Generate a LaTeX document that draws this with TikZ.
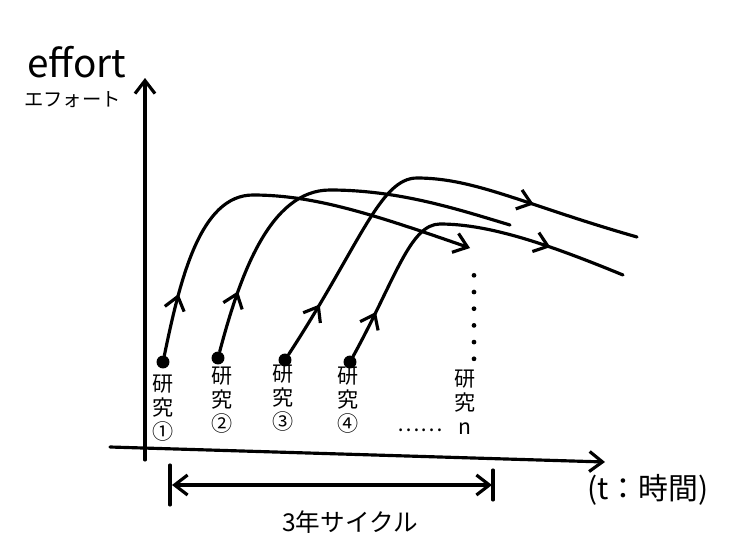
\documentclass[tikz,border=0pt]{standalone}
\usepackage{fontspec}
\setmainfont{Noto Sans CJK JP}
\usetikzlibrary{arrows.meta,decorations.markings}

\begin{document}
\begin{tikzpicture}[
    ink/.style={line width=1.8pt,line cap=round,line join=round},
    barb/.style={-{Straight Barb[length=2.6mm,width=4mm]}},
    dotstart/.style={circle,fill=black,inner sep=2.6pt},
    research/.style={align=center,font=\fontsize{12}{13.5}\selectfont},
    midarrow/.style={postaction={decorate,decoration={markings,
      mark=at position #1 with {\arrow{Straight Barb[length=2.6mm,width=4mm]}}}}}
  ]
    \useasboundingbox (0,0) rectangle (15,11.1);

    % axes
    \node[font=\fontsize{22}{22}\selectfont] (effort) at (1.54,9.86) {effort};
    \node[font=\fontsize{11}{11}\selectfont] (effortjp) at (1.45,9.1) {エフォート};
    \coordinate (ybot) at (2.9,1.9);
    \coordinate (ytop) at (2.9,9.54);
    \coordinate (xl) at (2.2,2.16);
    \coordinate (xr) at (12.1,1.86);
    \draw[ink,barb] (ybot) -- (ytop);
    \draw[ink,barb] (xl) -- (xr);
    \node[font=\fontsize{17}{17}\selectfont] (tlabel) at (12.96,1.3) {(t：時間)};

    % research lines
    \node[dotstart] (s1) at (3.26,3.86) {};
    \node[dotstart] (s2) at (4.36,3.94) {};
    \node[dotstart] (s3) at (5.7,3.9) {};
    \node[dotstart] (s4) at (7.0,3.86) {};
    \coordinate (e1) at (9.4,6.14);
    \coordinate (e2) at (10.2,6.6);
    \coordinate (e3) at (12.74,6.36);
    \coordinate (e4) at (12.46,5.6);

    \draw[ink,barb,midarrow=0.15] (s1) .. controls (3.6,5.5) and (4.0,7.2) .. (5.06,7.2)
      .. controls (6.3,7.2) and (7.5,6.8) .. (e1);
    \draw[ink,midarrow=0.16] (s2) .. controls (4.8,5.6) and (5.4,7.3) .. (6.6,7.3)
      .. controls (8,7.3) and (9.2,6.9) .. (e2);
    \draw[ink,midarrow=0.13,midarrow=0.76] (s3) .. controls (7.2,6.2) and (7.6,7.54) .. (8.34,7.54)
      .. controls (9.5,7.54) and (10.5,7.0) .. (e3);
    \draw[ink,midarrow=0.14,midarrow=0.78] (s4) .. controls (7.9,5.5) and (8.2,6.62) .. (8.8,6.62)
      .. controls (9.8,6.62) and (11,6.2) .. (e4);

    \node[research] (l1) at (3.26,2.94) {研\\究\\①};
    \node[research] (l2) at (4.44,3.1) {研\\究\\②};
    \node[research] (l3) at (5.66,3.14) {研\\究\\③};
    \node[research] (l4) at (6.96,3.1) {研\\究\\④};
    \node[research] (ln) at (9.3,3.06) {研\\究\\n};
    \node[font=\fontsize{12}{12}\selectfont] (gap) at (8.4,2.5) {……};
    \coordinate (dn) at (9.48,5.92);
    \draw[line width=2.7pt,line cap=round,dash pattern=on 0pt off 9.5pt]
      (ln.north) ++(0.18,0.1) coordinate (dl) -- (dn);

    % cycle bracket
    \coordinate (bl) at (3.44,1.4);
    \coordinate (br) at (9.84,1.4);
    \draw[ink] (3.4,1.8) -- (3.4,1.0);
    \draw[ink] (9.86,1.7) -- (9.86,1.1);
    \draw[ink,{Straight Barb[length=2.6mm,width=4mm]}-{Straight Barb[length=2.6mm,width=4mm]}] (bl) -- (br);
    \node[font=\fontsize{14}{14}\selectfont] (cycle) at (7.0,0.66) {3年サイクル};
  \end{tikzpicture}
\end{document}
